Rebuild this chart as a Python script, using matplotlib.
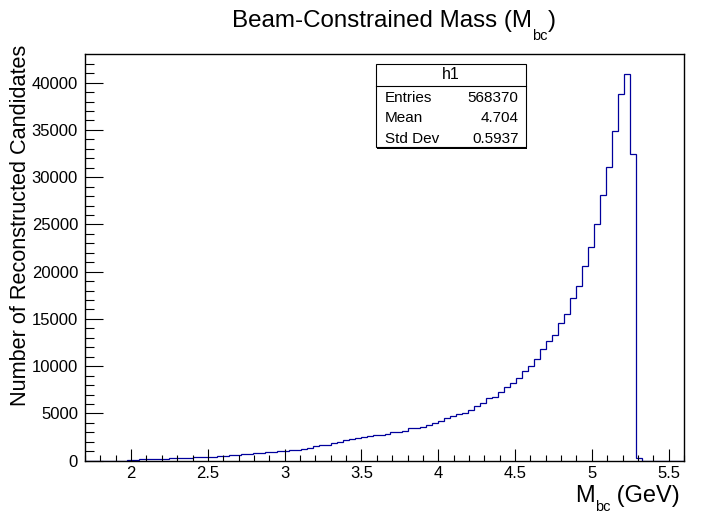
import numpy as np
import matplotlib
matplotlib.use("Agg")
import matplotlib.pyplot as plt
from matplotlib.patches import Rectangle
from matplotlib.ticker import MultipleLocator

plt.rcParams['font.family'] = ['Liberation Sans', 'DejaVu Sans']

# histogram h1: 100 bins from 1.7 to 5.6 GeV
x_lo, x_hi, n_bins = 1.7, 5.6, 100
counts = [
    0, 0, 0, 0, 0, 0, 0,
    40, 120, 150, 170, 190, 210, 230, 250, 270, 290, 310, 340, 370, 400,
    440, 480, 520, 570, 620, 670, 720, 770, 820, 880, 940, 990, 1050, 1110, 1170,
    1240, 1375, 1590, 1620, 1690, 1900, 1980, 2150, 2330, 2430, 2540, 2650,
    2720, 2750, 2850, 3000, 3070, 3170, 3420, 3460, 3600, 3740, 3990, 4200,
    4550, 4760, 4930, 5010, 5360, 5780, 6100, 6590, 6770, 7290, 7820, 8250,
    8770, 9450, 10040, 10720, 11770, 12650, 13280,
    14590, 15480, 17170, 18440, 20610, 22560, 25050, 28090, 31080, 34850,
    38840, 40950, 32490, 300,
    0, 0, 0, 0, 0, 0, 0,
]
stat_names = ["Entries", "Mean", "Std Dev"]
stat_values = ["568370", "4.704", "0.5937"]

W, H = 702, 515
fig = plt.figure(figsize=(W / 100, H / 100), dpi=100)

# frame position in pixels (left, top, right, bottom)
L, T, R, B = 85, 54.3, 684, 460.7
ax = fig.add_axes([L / W, 1 - B / H, (R - L) / W, (B - T) / H])

edges = np.linspace(x_lo, x_hi, n_bins + 1)
ax.stairs(counts, edges, color="#00009c", linewidth=0.9)

ax.set_xlim(x_lo, x_hi)
ax.set_ylim(0, max(counts) * 1.05)

for s in ax.spines.values():
    s.set_linewidth(1.0)
    s.set_color("black")

ax.xaxis.set_major_locator(MultipleLocator(0.5))
ax.xaxis.set_minor_locator(MultipleLocator(0.1))
ax.yaxis.set_major_locator(MultipleLocator(5000))
ax.yaxis.set_minor_locator(MultipleLocator(1000))
ax.tick_params(top=False, right=False, which="both", direction="in",
               width=0.8, labelsize=12)
ax.tick_params(axis="x", which="major", length=8.6, pad=4)
ax.tick_params(axis="x", which="minor", length=4.3)
ax.tick_params(axis="y", which="major", length=13, pad=5)
ax.tick_params(axis="y", which="minor", length=6.5)
ax.set_xticks([2, 2.5, 3, 3.5, 4, 4.5, 5, 5.5])
ax.set_xticklabels(["2", "2.5", "3", "3.5", "4", "4.5", "5", "5.5"])

renderer = fig.canvas.get_renderer()


def sub_text(x_px, y_px, main, sub, tail, size, sub_size, drop):
    # text with a ROOT-like lowered subscript, left edge x_px, baseline y_px
    t1 = fig.text(x_px / W, 1 - y_px / H, main, fontsize=size, va="baseline", ha="left")
    bb = t1.get_window_extent(renderer)
    t2 = fig.text(bb.x1 / W, 1 - (y_px + drop) / H, sub, fontsize=sub_size,
                  va="baseline", ha="left")
    bb2 = t2.get_window_extent(renderer)
    fig.text(bb2.x1 / W, 1 - y_px / H, tail, fontsize=size, va="baseline", ha="left")


sub_text(232, 27, "Beam-Constrained Mass (M", "bc", ")", 17.4, 10.5, 13)
sub_text(575, 502, "M", "bc", " (GeV)", 17, 10.5, 9)

fig.text(21 / W, 1 - 45 / H, "Number of Reconstructed Candidates", rotation=90,
         fontsize=15.6, ha="center", va="top")

# stats box
bx0, bx1, by0, by1 = 375.7, 525.7, 63.5, 147.3
fig.patches.append(Rectangle((bx0 / W + 1.5 / W, 1 - by1 / H - 1.5 / H),
                             (bx1 - bx0) / W, (by1 - by0) / H, transform=fig.transFigure,
                             facecolor="black", edgecolor="none", zorder=3))
fig.patches.append(Rectangle((bx0 / W, 1 - by1 / H), (bx1 - bx0) / W, (by1 - by0) / H,
                             transform=fig.transFigure, facecolor="white",
                             edgecolor="black", linewidth=0.8, zorder=4))
fig.add_artist(plt.Line2D([bx0 / W, bx1 / W], [1 - 86 / H, 1 - 86 / H],
                          transform=fig.transFigure, color="black", linewidth=0.8, zorder=5))
fig.text((bx0 + bx1) / 2 / W, 1 - 75 / H, "h1", fontsize=11.5, ha="center",
         va="center", zorder=6)
for i, (name, val) in enumerate(zip(stat_names, stat_values)):
    yy = 1 - (97.5 + i * 20.7) / H
    fig.text(385 / W, yy, name, fontsize=11, ha="left", va="center", zorder=6)
    fig.text(518.5 / W, yy, val, fontsize=11, ha="right", va="center", zorder=6)

fig.savefig("out.png", dpi=100)
